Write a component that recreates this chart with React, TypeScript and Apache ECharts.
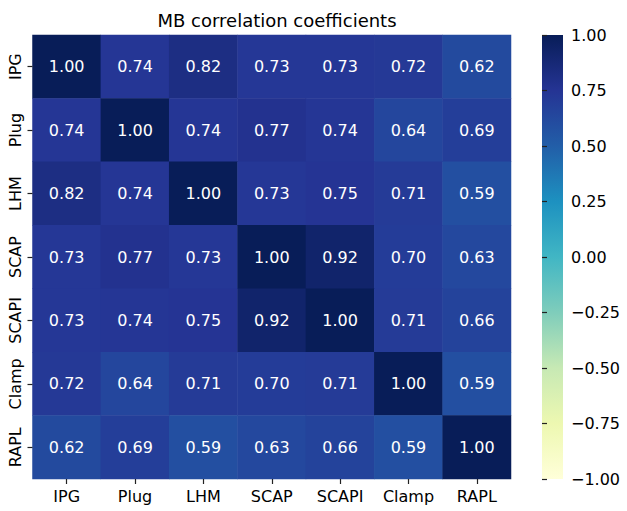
import React, { useEffect, useRef } from "react";
import * as echarts from "echarts";

const labels = ["IPG", "Plug", "LHM", "SCAP", "SCAPI", "Clamp", "RAPL"];
const rowIPG = [1.0, 0.74, 0.82, 0.73, 0.73, 0.72, 0.62];
const rowPlug = [0.74, 1.0, 0.74, 0.77, 0.74, 0.64, 0.69];
const rowLHM = [0.82, 0.74, 1.0, 0.73, 0.75, 0.71, 0.59];
const rowSCAP = [0.73, 0.77, 0.73, 1.0, 0.92, 0.7, 0.63];
const rowSCAPI = [0.73, 0.74, 0.75, 0.92, 1.0, 0.71, 0.66];
const rowClamp = [0.72, 0.64, 0.71, 0.7, 0.71, 1.0, 0.59];
const rowRAPL = [0.62, 0.69, 0.59, 0.63, 0.66, 0.59, 1.0];
const rows = [rowIPG, rowPlug, rowLHM, rowSCAP, rowSCAPI, rowClamp, rowRAPL];
const ylgnbu = ["#ffffd9", "#edf8b1", "#c7e9b4", "#7fcdbb", "#41b6c4", "#1d91c0", "#225ea8", "#253494", "#081d58"];
const title = "MB correlation coefficients";

const FONT = "DejaVu Sans";

export default function App() {
  const ref = useRef<HTMLDivElement>(null);
  useEffect(() => {
    if (!ref.current) return;
    const chart = echarts.init(ref.current, null, { renderer: "svg" });
    const data: number[][] = [];
    rows.forEach((r, yi) => r.forEach((v, xi) => data.push([xi, yi, v])));
    const fmt = (v: number) => (v < 0 ? "\u2212" + Math.abs(v).toFixed(2) : v.toFixed(2));
    const stops = ylgnbu.map((c, i) => ({ offset: i / (ylgnbu.length - 1), color: c }));
    const hiddenLine = { show: true, lineStyle: { color: "#000", opacity: 0 } };
    const tick = { show: true, inside: false, length: 5, lineStyle: { color: "#222", width: 1.2, opacity: 1 } };
    chart.setOption({
      animation: false,
      backgroundColor: "#ffffff",
      title: {
        text: title,
        left: 272,
        top: 6,
        textAlign: "center",
        textStyle: { fontFamily: FONT, fontSize: 18, fontWeight: "normal", color: "#000" },
      },
      grid: [
        { left: 32.5, top: 35, width: 478.5, height: 444, outerBoundsMode: "none" },
        { left: 542, top: 35, width: 21, height: 444, outerBoundsMode: "none" },
      ],
      graphic: [
        {
          type: "rect",
          x: 542,
          y: 35,
          shape: { x: 0, y: 0, width: 21, height: 444 },
          style: { fill: new echarts.graphic.LinearGradient(0, 1, 0, 0, stops) },
          z: -1,
        },
      ],
      xAxis: [
        {
          type: "category",
          data: labels,
          gridIndex: 0,
          z: 10,
          axisLine: hiddenLine,
          axisTick: { ...tick, alignWithLabel: true, interval: 0 },
          axisLabel: { fontFamily: FONT, fontSize: 16, color: "#000", margin: 9, interval: 0 },
          splitLine: { show: false },
        },
        { type: "value", gridIndex: 1, show: false, min: 0, max: 1 },
      ],
      yAxis: [
        {
          type: "category",
          data: labels,
          inverse: true,
          gridIndex: 0,
          z: 10,
          axisLine: hiddenLine,
          axisTick: { ...tick, alignWithLabel: true, interval: 0 },
          axisLabel: { fontFamily: FONT, fontSize: 16, color: "#000", margin: 9, rotate: 90, interval: 0 },
          splitLine: { show: false },
        },
        {
          type: "value",
          gridIndex: 1,
          position: "right",
          min: -1,
          max: 1,
          interval: 0.25,
          z: 10,
          axisLine: hiddenLine,
          axisTick: tick,
          axisLabel: { fontFamily: FONT, fontSize: 16, color: "#000", margin: 8, formatter: fmt },
          splitLine: { show: false },
        },
      ],
      visualMap: {
        type: "continuous",
        show: false,
        min: -1,
        max: 1,
        seriesIndex: 0,
        inRange: { color: ylgnbu },
      },
      series: [
        {
          type: "heatmap",
          xAxisIndex: 0,
          yAxisIndex: 0,
          data,
          label: {
            show: true,
            fontFamily: FONT,
            fontSize: 16,
            color: "#ffffff",
            formatter: (p: any) => fmt(p.value[2]),
          },
          itemStyle: { borderWidth: 0 },
          emphasis: { disabled: true },
        },
      ],
    });
    return () => chart.dispose();
  }, []);
  return <div ref={ref} style={{ position: "fixed", left: 0, top: 0, width: 627, height: 511 }} />;
}
